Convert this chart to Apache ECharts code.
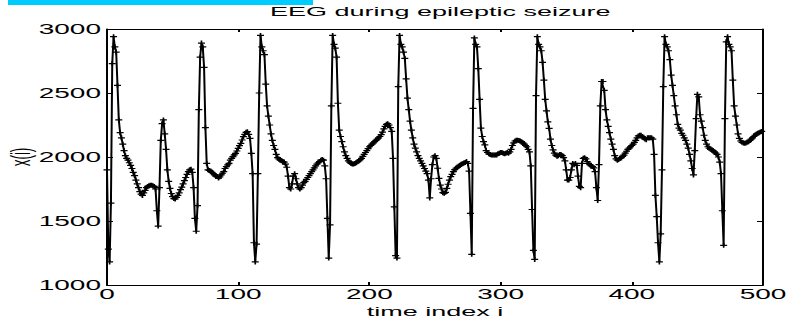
<!DOCTYPE html>
<html>
<head>
<meta charset="utf-8">
<script src="https://cdn.jsdelivr.net/npm/echarts@6/dist/echarts.min.js"></script>
<style>
html,body{margin:0;padding:0;background:#fff;overflow:hidden;}
#wrap{width:788px;height:320px;overflow:hidden;}
#chart{width:394px;height:320px;transform:scaleX(2);transform-origin:0 0;}
</style>
</head>
<body>
<div id="wrap"><div id="chart"></div></div>
<script>
// Chart texts
const titleText = 'EEG during epileptic seizure';
const xName = 'time index i';
const yName = 'x(i)';
const xTicks = [0, 100, 200, 300, 400, 500];
const yTicks = [1000, 1500, 2000, 2500, 3000];

// EEG samples x(i), i = 0..499
const eeg000 = [1900,1280,1180,1640,2730,2940,2860,2820,2560,2290,
  2190,2150,2100,2050,2010,1990,1975,1955,1935,1910,
  1880,1855,1820,1790,1760,1730,1710,1700,1720,1740,
  1760,1770,1775,1780,1780,1775,1770,1750,1580,1460,
  1760,2130,2260,2290,2180,2060,1900,1810,1755,1715,
  1690,1675,1672,1685,1700,1720,1745,1765,1790,1815,
  1840,1865,1885,1900,1905,1880,1760,1520,1420,1620,
  2370,2780,2890,2860,2700,2230,1950,1900,1895,1890,
  1880,1870,1860,1850,1847,1835,1845,1860,1873,1885,
  1910,1925,1938,1950,1975,1990,2003,2016,2029,2047];
const eeg100 = [2068,2089,2107,2133,2159,2177,2193,2198,2177,2146,
  2029,1870,1330,1180,1320,1870,2500,2950,2860,2830,
  2800,2570,2400,2320,2250,2180,2130,2090,2060,2020,
  1995,1985,1975,1970,1965,1960,1945,1920,1850,1760,
  1750,1790,1850,1870,1830,1790,1760,1750,1760,1780,
  1800,1810,1825,1840,1855,1870,1885,1900,1915,1930,
  1945,1955,1965,1975,1980,1975,1930,1830,1520,1210,
  1470,2400,2950,2880,2850,2780,2420,2210,2160,2120,
  2080,2040,2010,1990,1970,1960,1950,1945,1945,1950,
  1955,1962,1970,1980,1990,2005,2020,2035,2050,2065];
const eeg200 = [2080,2090,2100,2110,2120,2130,2140,2150,2160,2175,
  2195,2220,2240,2255,2260,2250,2230,2200,1990,1610,
  1230,1210,2550,2950,2880,2860,2820,2770,2610,2460,
  2370,2280,2210,2150,2100,2070,2040,2010,1990,1970,
  1950,1930,1910,1890,1870,1820,1680,1830,1940,2000,
  2010,1990,1912,1833,1781,1750,1721,1716,1724,1755,
  1787,1820,1846,1865,1885,1901,1912,1919,1927,1935,
  1943,1948,1953,1958,1964,1950,1890,1560,1240,2380,
  2930,2880,2860,2690,2450,2225,2160,2120,2094,2050,
  2035,2025,2020,2016,2015,2015,2015,2016,2025,2030];
const eeg300 = [2035,2036,2030,2025,2030,2035,2030,2040,2060,2090,
  2110,2125,2130,2130,2128,2125,2120,2110,2100,2090,
  2080,2060,2040,1930,1590,1270,1200,2480,2940,2880,
  2860,2830,2740,2600,2450,2360,2275,2224,2140,2090,
  2055,2030,2015,2005,2010,2020,2020,2010,1995,1970,
  1900,1820,1820,1840,1900,1950,1940,1950,1935,1850,
  1770,1760,1950,1990,1995,1985,1965,1950,1940,1930,
  1925,1915,1885,1760,1660,1940,2400,2590,2590,2520,
  2370,2290,2240,2190,2140,2100,2060,2010,1985,1975,
  1980,1990,1995,2005,2015,2030,2045,2060,2070,2080];
const eeg400 = [2090,2100,2115,2130,2150,2165,2170,2170,2160,2150,
  2140,2135,2150,2150,2150,2150,2140,2020,1700,1534,
  1330,1180,1400,1900,2550,2940,2880,2860,2830,2760,
  2640,2560,2480,2400,2330,2255,2225,2210,2185,2170,
  2150,2130,2100,2070,2020,1970,1910,1860,2050,2300,
  2490,2470,2330,2280,2230,2170,2130,2100,2080,2070,
  2060,2055,2050,2040,2030,2020,2000,1960,1870,1580,
  1310,2300,2900,2940,2880,2860,2830,2600,2400,2320,
  2250,2180,2145,2125,2115,2110,2108,2110,2115,2120,
  2130,2140,2150,2160,2170,2180,2185,2190,2195,2200];

const values = [].concat(eeg000, eeg100, eeg200, eeg300, eeg400);
const seriesData = values.map((v, i) => [i, v]);

const FONT = 'Liberation Sans, Arial, Helvetica, sans-serif';
const chart = echarts.init(document.getElementById('chart'), null, {renderer: 'svg'});
const plain = v => String(v);

const baseX = {
  type: 'value', min: xTicks[0], max: xTicks[xTicks.length - 1], interval: 100,
  splitLine: {show: false},
  axisLine: {show: true, onZero: false, lineStyle: {color: '#000', width: 1}},
  axisTick: {show: true, inside: true, length: 3, lineStyle: {color: '#000', width: 1}}
};
const baseY = {
  type: 'value', min: yTicks[0], max: yTicks[yTicks.length - 1], interval: 500,
  splitLine: {show: false},
  axisLine: {show: true, onZero: false, lineStyle: {color: '#000', width: 1}},
  axisTick: {show: true, inside: true, length: 3, lineStyle: {color: '#000', width: 1}}
};

chart.setOption({
  animation: false,
  backgroundColor: '#fff',
  title: {
    text: titleText, left: 130, top: 0,
    textStyle: {fontFamily: FONT, fontSize: 13.5, fontWeight: 'normal', color: '#000'}
  },
  graphic: [{
    type: 'rect', shape: {x: 4, y: 0, width: 152.5, height: 5},
    style: {fill: '#00ccff'}, silent: true
  }],
  grid: {left: 53.5, right: 12.5, top: 29, bottom: 35, containLabel: false, outerBoundsMode: 'none'},
  xAxis: [
    Object.assign({}, baseX, {
      position: 'bottom',
      axisLabel: {show: true, color: '#000', fontFamily: FONT, fontSize: 14, margin: 2, formatter: plain},
      name: xName, nameLocation: 'middle', nameGap: 19.5, nameMoveOverlap: false,
      nameTextStyle: {color: '#000', fontFamily: FONT, fontSize: 13.5}
    }),
    Object.assign({}, baseX, {position: 'top', axisLabel: {show: false}})
  ],
  yAxis: [
    Object.assign({}, baseY, {
      position: 'left',
      axisLabel: {show: true, color: '#000', fontFamily: FONT, fontSize: 14, margin: 3, formatter: plain},
      name: yName, nameLocation: 'middle', nameGap: 36, nameRotate: 90, nameMoveOverlap: false,
      nameTextStyle: {color: '#000', fontFamily: FONT, fontSize: 13.5}
    }),
    Object.assign({}, baseY, {position: 'right', axisLabel: {show: false}})
  ],
  series: [{
    type: 'line',
    xAxisIndex: 0, yAxisIndex: 0,
    data: seriesData,
    showSymbol: true,
    symbol: 'path://M0,5L10,5M5,0L5,10',
    symbolSize: [3.5, 5],
    itemStyle: {color: '#000', borderColor: '#000', borderWidth: 1},
    lineStyle: {color: '#000', width: 1},
    emphasis: {disabled: true}
  }]
});
</script>
</body>
</html>
